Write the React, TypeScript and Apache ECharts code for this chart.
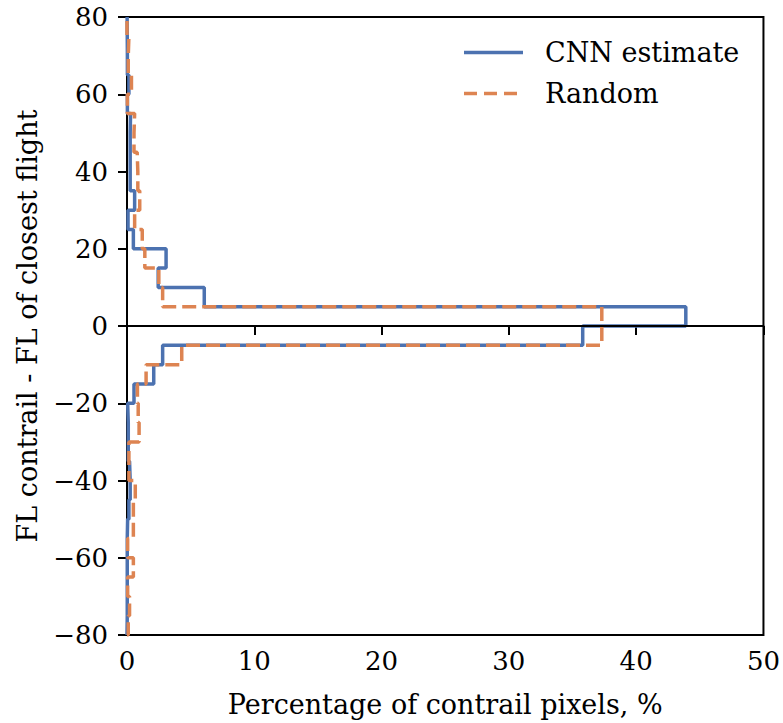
import React, { useEffect, useRef } from "react";
import * as echarts from "echarts";

const binEdges = [-80, -75, -70, -65, -60, -55, -50, -45, -40, -35, -30, -25, -20, -15, -10, -5, 0, 5, 10, 15, 20, 25, 30, 35, 40, 45, 50, 55, 60, 65, 70, 75, 80];

const cnnValues = [0.02, 0.02, 0.02, 0.02, 0.02, 0.05, 0.15, 0.25, 0.2, 0.1, 0.1, 0.05, 0.55, 2.1, 2.8, 35.8, 43.9, 6.07, 2.45, 3.07, 0.5, 0.08, 0.6, 0.25, 0.25, 0.25, 0.28, 0.03, 0.15, 0.03, 0.02, 0.01];

const randomValues = [0.1, 0.2, 0.05, 0.5, 0.05, 0.5, 0.5, 0.65, 0.15, 0.15, 0.95, 0.88, 0.82, 1.5, 4.3, 37.3, 37.3, 2.8, 2.5, 1.4, 1.2, 0.6, 1.0, 0.85, 0.8, 0.55, 0.6, 0.03, 0.35, 0.1, 0.15, 0.0];

const seriesNames = ["CNN estimate", "Random"];
const seriesColors = ["#4c72b0", "#dd8452"];
const xTicks = { min: 0, max: 50, interval: 10 };
const yTicks = { min: -80, max: 80, interval: 20 };

function stepPoints(values: number[]): number[][] {
  const pts: number[][] = [[0, binEdges[0]]];
  for (let i = 0; i < values.length; i++) {
    pts.push([values[i], binEdges[i]]);
    pts.push([values[i], binEdges[i + 1]]);
  }
  pts.push([0, binEdges[binEdges.length - 1]]);
  return pts;
}

const FONT = "DejaVu Serif";
const LW = 3.5;
const DASH = [14, 6];

const fmtMinus = (v: number) => String(v).replace("-", "\u2212");

export default function App() {
  const ref = useRef<HTMLDivElement>(null);
  useEffect(() => {
    if (!ref.current) return;
    const chart = echarts.init(ref.current, null, { renderer: "svg" });
    chart.setOption({
      animation: false,
      backgroundColor: "#ffffff",
      grid: {
        left: 127,
        right: 19,
        top: 17,
        bottom: 87,
        show: true,
        borderColor: "#000",
        borderWidth: 2,
        backgroundColor: "transparent",
      },
      graphic: [
        {
          type: "line",
          shape: { x1: 464, y1: 52.5, x2: 523, y2: 52.5 },
          style: { stroke: seriesColors[0], lineWidth: LW },
        },
        {
          type: "text",
          style: {
            text: seriesNames[0],
            x: 545,
            y: 52.5,
            verticalAlign: "middle",
            fontFamily: FONT,
            fontSize: 27,
            fill: "#000",
          },
        },
        {
          type: "line",
          shape: { x1: 464, y1: 93.5, x2: 523, y2: 93.5 },
          style: { stroke: seriesColors[1], lineWidth: LW, lineDash: [13, 7] },
        },
        {
          type: "text",
          style: {
            text: seriesNames[1],
            x: 545,
            y: 93.5,
            verticalAlign: "middle",
            fontFamily: FONT,
            fontSize: 27,
            fill: "#000",
          },
        },
      ],
      xAxis: {
        type: "value",
        min: xTicks.min,
        max: xTicks.max,
        interval: xTicks.interval,
        name: "Percentage of contrail pixels, %",
        nameLocation: "middle",
        nameGap: 56,
        nameTextStyle: { fontFamily: FONT, fontSize: 27, color: "#000" },
        axisLine: { show: true, lineStyle: { color: "#000", width: 2 } },
        axisTick: { show: true, length: 9, lineStyle: { color: "#000", width: 2 } },
        axisLabel: { fontFamily: FONT, fontSize: 26, color: "#000", margin: 13, formatter: fmtMinus },
        splitLine: { show: false },
      },
      yAxis: {
        type: "value",
        min: yTicks.min,
        max: yTicks.max,
        interval: yTicks.interval,
        name: "FL contrail - FL of closest flight",
        nameLocation: "middle",
        nameGap: 86,
        nameTextStyle: { fontFamily: FONT, fontSize: 27, color: "#000" },
        axisLine: { show: true, lineStyle: { color: "#000", width: 2 } },
        axisTick: { show: true, length: 9, lineStyle: { color: "#000", width: 2 } },
        axisLabel: { fontFamily: FONT, fontSize: 26, color: "#000", margin: 19, formatter: fmtMinus },
        splitLine: { show: false },
      },
      series: [
        {
          name: seriesNames[0],
          type: "line",
          symbol: "none",
          data: stepPoints(cnnValues),
          lineStyle: { color: seriesColors[0], width: LW },
          itemStyle: { color: seriesColors[0] },
          z: 3,
          markLine: {
            silent: true,
            symbol: "none",
            label: { show: false },
            lineStyle: { color: "#000", width: 2, type: "solid" },
            data: [{ yAxis: 0 }],
          },
        },
        {
          name: seriesNames[1],
          type: "line",
          symbol: "none",
          data: stepPoints(randomValues),
          lineStyle: { color: seriesColors[1], width: LW, type: DASH },
          itemStyle: { color: seriesColors[1] },
          z: 4,
        },
      ],
    });
    return () => chart.dispose();
  }, []);
  return (
    <div
      ref={ref}
      style={{ position: "fixed", left: 0, top: 0, width: 783, height: 723 }}
    />
  );
}
